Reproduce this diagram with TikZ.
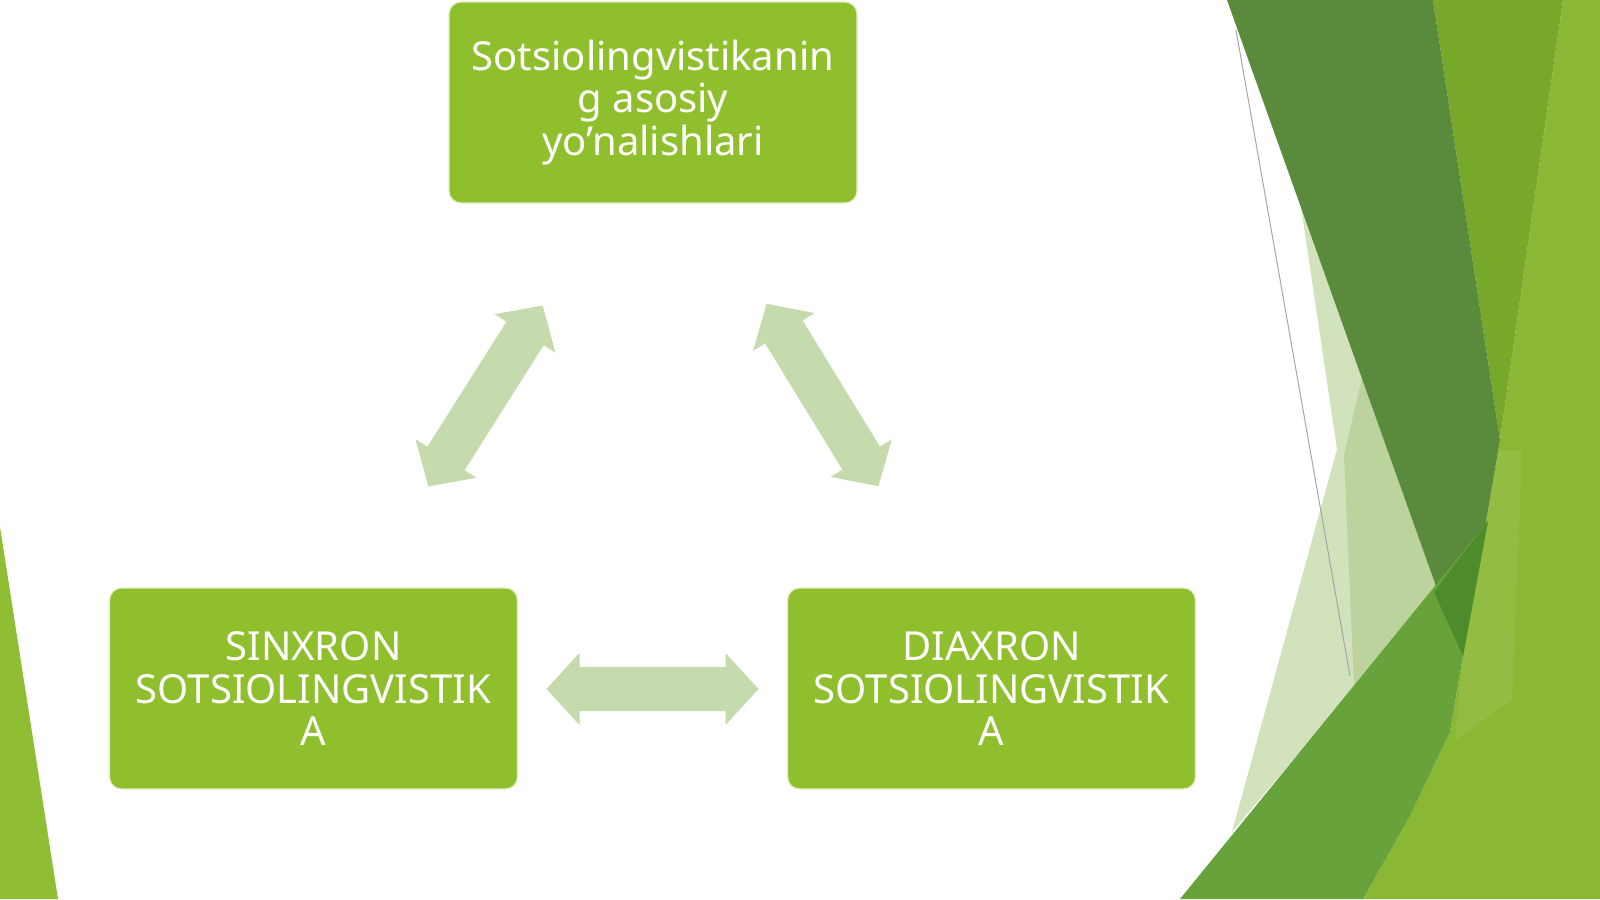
\documentclass[tikz,border=0pt]{standalone}
\usepackage{fontspec}
\setmainfont{Noto Sans}
\definecolor{boxgreen}{HTML}{90BF2D}
\definecolor{boxedge}{HTML}{E4EFC0}
\definecolor{arrowgreen}{HTML}{C5DBAD}
\definecolor{leftgreen}{HTML}{8FBD34}
\definecolor{lightright}{HTML}{8BB834}
\definecolor{medgreen}{HTML}{78A82A}
\definecolor{darkband}{HTML}{5A8A3B}
\definecolor{bandgreen}{HTML}{67A33A}
\definecolor{overlapgreen}{HTML}{4E8C2B}
\definecolor{pale}{HTML}{D2E2BD}
\definecolor{palemid}{HTML}{BDD39D}
\definecolor{highlight}{HTML}{A4C65F}
\begin{document}
\begin{tikzpicture}[x=0.5pt,y=-0.5pt,
  box/.style={draw=boxedge, line width=0.6pt, fill=boxgreen, rounded corners=6pt,
    minimum width=204pt, minimum height=100.5pt, text=white, align=center,
    font=\fontsize{20}{21.25}\selectfont, inner sep=0pt},
  fatarrow/.style={fill=arrowgreen, draw=none},
  deco/.style={draw=none}]
\useasboundingbox (0,0) rectangle (1600,899);
\fill[white] (0,0) rectangle (1600,899);
\begin{scope}
  \clip (0,0) rectangle (1600,899);
  % left decoration
  \fill[leftgreen, deco] (0,527) -- (58,899) -- (0,899) -- cycle;
  % right decoration
  \fill[lightright, deco] (1563,0) -- (1600,0) -- (1600,899) -- (1363,899) -- (1410,816)
        -- (1450,732) -- (1463,656) -- (1500,440) -- cycle;
  \fill[highlight, deco, opacity=0.35] (1497,450) -- (1522,450) -- (1512,700) -- (1455,740) -- (1463,656) -- cycle;
  \fill[medgreen, deco] (1433,0) -- (1563,0) -- (1500,440) -- cycle;
  \fill[pale, deco] (1301,207) -- (1437,589) -- (1232,832) -- (1337,449) -- cycle;
  \fill[palemid, deco] (1362,378) -- (1437,589) -- (1354,686) -- (1344,455) -- cycle;
  \draw[gray!70, line width=0.5pt] (1236,30) -- (1350,676);
  \fill[darkband, deco] (1227,0) -- (1433,0) -- (1500,440) -- (1463,656) -- (1437,589) -- cycle;
  \fill[bandgreen, deco] (1180,899) -- (1488,521) -- (1463,656) -- (1450,732) -- (1410,816) -- (1363,899) -- cycle;
  \fill[overlapgreen, deco] (1434,592) -- (1488,521) -- (1463,656) -- cycle;
\end{scope}
% arrows
\begin{scope}[shift={(652.5,689)}]
  \fill[fatarrow] (-106,0) -- (-73,-36) -- (-73,-22) -- (73,-22) -- (73,-36) -- (106,0)
     -- (73,36) -- (73,22) -- (-73,22) -- (-73,36) -- cycle;
\end{scope}
\begin{scope}[shift={(485.5,396)}, rotate=57.7]
  \fill[fatarrow] (-107,0) -- (-74,-36) -- (-74,-22) -- (74,-22) -- (74,-36) -- (107,0)
     -- (74,36) -- (74,22) -- (-74,22) -- (-74,36) -- cycle;
\end{scope}
\begin{scope}[shift={(822.5,395)}, rotate=-58.5]
  \fill[fatarrow] (-107,0) -- (-74,-36) -- (-74,-22) -- (74,-22) -- (74,-36) -- (107,0)
     -- (74,36) -- (74,22) -- (-74,22) -- (-74,36) -- cycle;
\end{scope}
% boxes
\node[box] (top) at (653,102.5) {Sotsiolingvistikanin\\g asosiy\\yo’nalishlari};
\node[box] (sinx) at (313.5,688.5) {SINXRON\\SOTSIOLINGVISTIK\\A};
\node[box] (diax) at (991.5,688.5) {DIAXRON\\SOTSIOLINGVISTIK\\A};
\end{tikzpicture}
\end{document}
